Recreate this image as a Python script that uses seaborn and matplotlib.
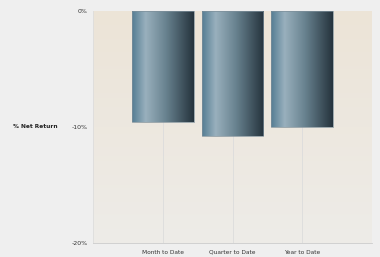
import matplotlib
matplotlib.use("Agg")
import matplotlib.pyplot as plt
import matplotlib.colors as mcolors
import numpy as np
import pandas as pd
import seaborn as sns

periods = ["Month to Date", "Quarter to Date", "Year to Date"]
net_return = [-9.6, -10.75, -10.0]
y_ticks = [0, -10, -20]
y_tick_labels = ["0%", "-10%", "-20%"]

df = pd.DataFrame({"period": periods, "net_return": net_return})

sns.set_style("white")
plt.rcParams["font.family"] = ["DejaVu Sans"]

fig = plt.figure(figsize=(3.8, 2.57), dpi=100, facecolor="#efefef")
ax = fig.add_axes([93 / 380, 14 / 257, 279 / 380, 232 / 257])

sns.barplot(data=df, x="period", y="net_return", ax=ax, width=0.885,
            color="#5a7f92", edgecolor="#7d8f9a", linewidth=0.5, zorder=3)

ax.set_xlim(-1, 3)
ax.set_ylim(-20, 0)

# plot area background, beige at top fading to light grey
bg = mcolors.LinearSegmentedColormap.from_list("bg", ["#eeece8", "#ece4d7"])
ax.imshow(np.linspace(0, 1, 256).reshape(-1, 1), cmap=bg, origin="lower",
          aspect="auto", extent=[-1, 3, -20, 0], zorder=0)

# horizontal shading on the bars
bar_cmap = mcolors.LinearSegmentedColormap.from_list(
    "bar", [(0, "#547d93"), (0.22, "#99b0bd"), (0.55, "#68828f"), (1, "#25333d")])
grad = np.linspace(0, 1, 256).reshape(1, -1)
for patch in ax.patches:
    x0, y0 = patch.get_x(), patch.get_y()
    w, h = patch.get_width(), patch.get_height()
    im = ax.imshow(grad, cmap=bar_cmap, aspect="auto",
                   extent=[x0, x0 + w, y0 + h, y0], zorder=3.5)
    im.set_clip_path(patch)
    patch.set_facecolor("none")
    patch.set_zorder(4)

ax.set_xticks([0, 1, 2, 3])
ax.set_xticklabels(periods + [""])
ax.set_yticks(y_ticks)
ax.set_yticklabels(y_tick_labels)
ax.xaxis.grid(True, color="#dcdcdc", linewidth=0.6, zorder=1)
ax.set_axisbelow(True)
ax.tick_params(axis="x", labelsize=4.2, colors="#c8c8c8", labelcolor="#333333",
               length=3, width=0.5, pad=2)
ax.tick_params(axis="y", labelsize=4.5, colors="#c8c8c8", labelcolor="#333333",
               length=3, width=0.5, pad=1)

for side in ["top", "right"]:
    ax.spines[side].set_visible(False)
ax.spines["left"].set_color("#dddddd")
ax.spines["bottom"].set_color("#cccccc")
ax.spines["left"].set_linewidth(0.6)
ax.spines["bottom"].set_linewidth(0.6)

ax.set_xlabel("")
ax.set_ylabel("% Net Return", rotation=0, fontsize=4.2, fontweight="bold",
              color="#222222", labelpad=0, ha="center", va="center")
ax.yaxis.set_label_coords(-0.208, 0.5)

fig.savefig("out.png", dpi=100, facecolor=fig.get_facecolor())
